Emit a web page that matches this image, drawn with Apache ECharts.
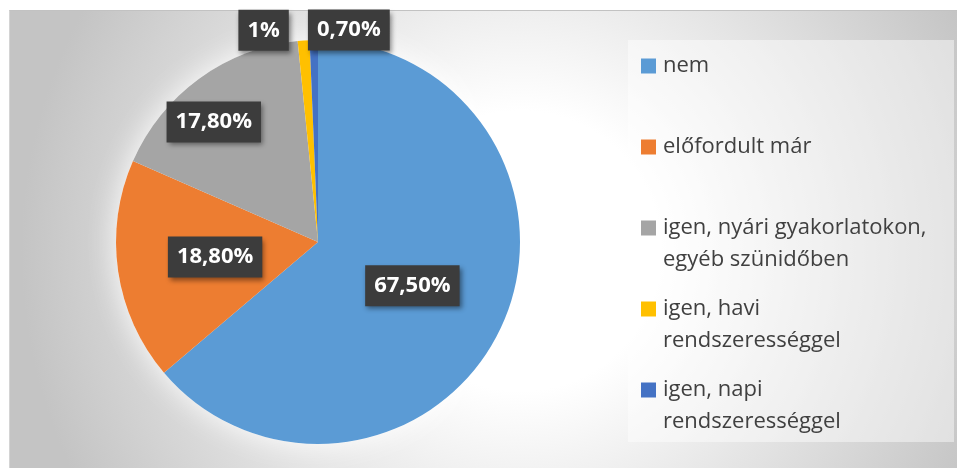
<!DOCTYPE html>
<html>
<head>
<meta charset="utf-8">
<script src="https://cdn.jsdelivr.net/npm/echarts@6/dist/echarts.min.js"></script>
<style>
  html, body { margin: 0; padding: 0; background: #ffffff; }
  #frame {
    position: absolute; left: 9px; top: 10px; width: 948px; height: 458px;
    border-top: 1px solid #c2c2c2; border-left: 1px solid #d4d4d4;
    background: radial-gradient(circle at 511px 240px, #ffffff 0px, #ffffff 140px, #c4c4c4 500px);
  }
  #main { position: absolute; left: 0; top: 0; width: 957px; height: 468px; }
</style>
</head>
<body>
<div id="frame"></div>
<div id="main"></div>
<script>
// kategóriák és értékek
var categories = ["nem", "előfordult már", "igen, nyári gyakorlatokon, egyéb szünidőben", "igen, havi rendszerességgel", "igen, napi rendszerességgel"];
var values = [67.5, 18.8, 17.8, 1, 0.7];
var valueLabels = ["67,50%", "18,80%", "17,80%", "1%", "0,70%"];
// jelmagyarázat sortörései
var legendLines = [
  ["nem"],
  ["előfordult már"],
  ["igen, nyári gyakorlatokon,", "egyéb szünidőben"],
  ["igen, havi", "rendszerességgel"],
  ["igen, napi", "rendszerességgel"]
];
var colors = ["#5b9bd5", "#ed7d31", "#a5a5a5", "#ffc000", "#4472c4"];

// címkék eltolása (dx, dy) a belső pozícióhoz képest
var labelShift = [[0, 0], [0, 0], [-43, -36], [-47, -108], [33, -108]];

var myChart = echarts.init(document.getElementById("main"));

var pieData = categories.map(function (c, i) {
  return { name: c, value: values[i], itemStyle: { color: colors[i] } };
});

myChart.setOption({
  backgroundColor: "transparent",
  animation: false,
  graphic: [
    {
      type: "rect",
      left: 628,
      top: 40,
      z: -1,
      shape: { width: 326, height: 402 },
      style: { fill: "rgba(255,255,255,0.45)" }
    }
  ],
  legend: {
    orient: "vertical",
    left: 641,
    top: 18,
    padding: 0,
    itemGap: -15,
    itemWidth: 15,
    itemHeight: 15,
    icon: "rect",
    data: categories,
    // az első sor a jel mellé kerüljön: minden bejegyzés 3 soros blokk, az első sor középen
    formatter: function (name) {
      var lines = legendLines[categories.indexOf(name)];
      return "\n" + lines.join("\n") + (lines.length > 1 ? "" : "\n");
    },
    textStyle: {
      fontFamily: "Open Sans",
      fontSize: 22,
      lineHeight: 32,
      padding: [0, 0, 0, 2],
      color: "#404040"
    }
  },
  series: [
    {
      // halvány fehér fény a kör körül
      type: "pie",
      silent: true,
      z: 1,
      center: [318, 242],
      radius: 202,
      label: { show: false },
      labelLine: { show: false },
      data: [{ name: "", value: 1 }],
      itemStyle: {
        color: "#ffffff",
        shadowBlur: 30,
        shadowColor: "rgba(255,255,255,0.95)"
      }
    },
    {
      type: "pie",
      z: 2,
      center: [318, 242],
      radius: 202,
      startAngle: 90,
      clockwise: true,
      avoidLabelOverlap: false,
      data: pieData,
      labelLine: { show: false },
      label: {
        show: true,
        position: "inside",
        formatter: function (p) {
          return valueLabels[p.dataIndex];
        },
        fontFamily: "Open Sans",
        fontWeight: "bold",
        fontSize: 22,
        lineHeight: 31,
        color: "#ffffff",
        backgroundColor: "#3c3c3c",
        padding: [5, 9],
        shadowColor: "rgba(0,0,0,0.45)",
        shadowBlur: 5,
        shadowOffsetX: 2,
        shadowOffsetY: 3
      },
      labelLayout: function (params) {
        var s = labelShift[params.dataIndex];
        return { dx: s[0], dy: s[1] };
      },
      emphasis: { disabled: true }
    }
  ]
});
</script>
</body>
</html>
